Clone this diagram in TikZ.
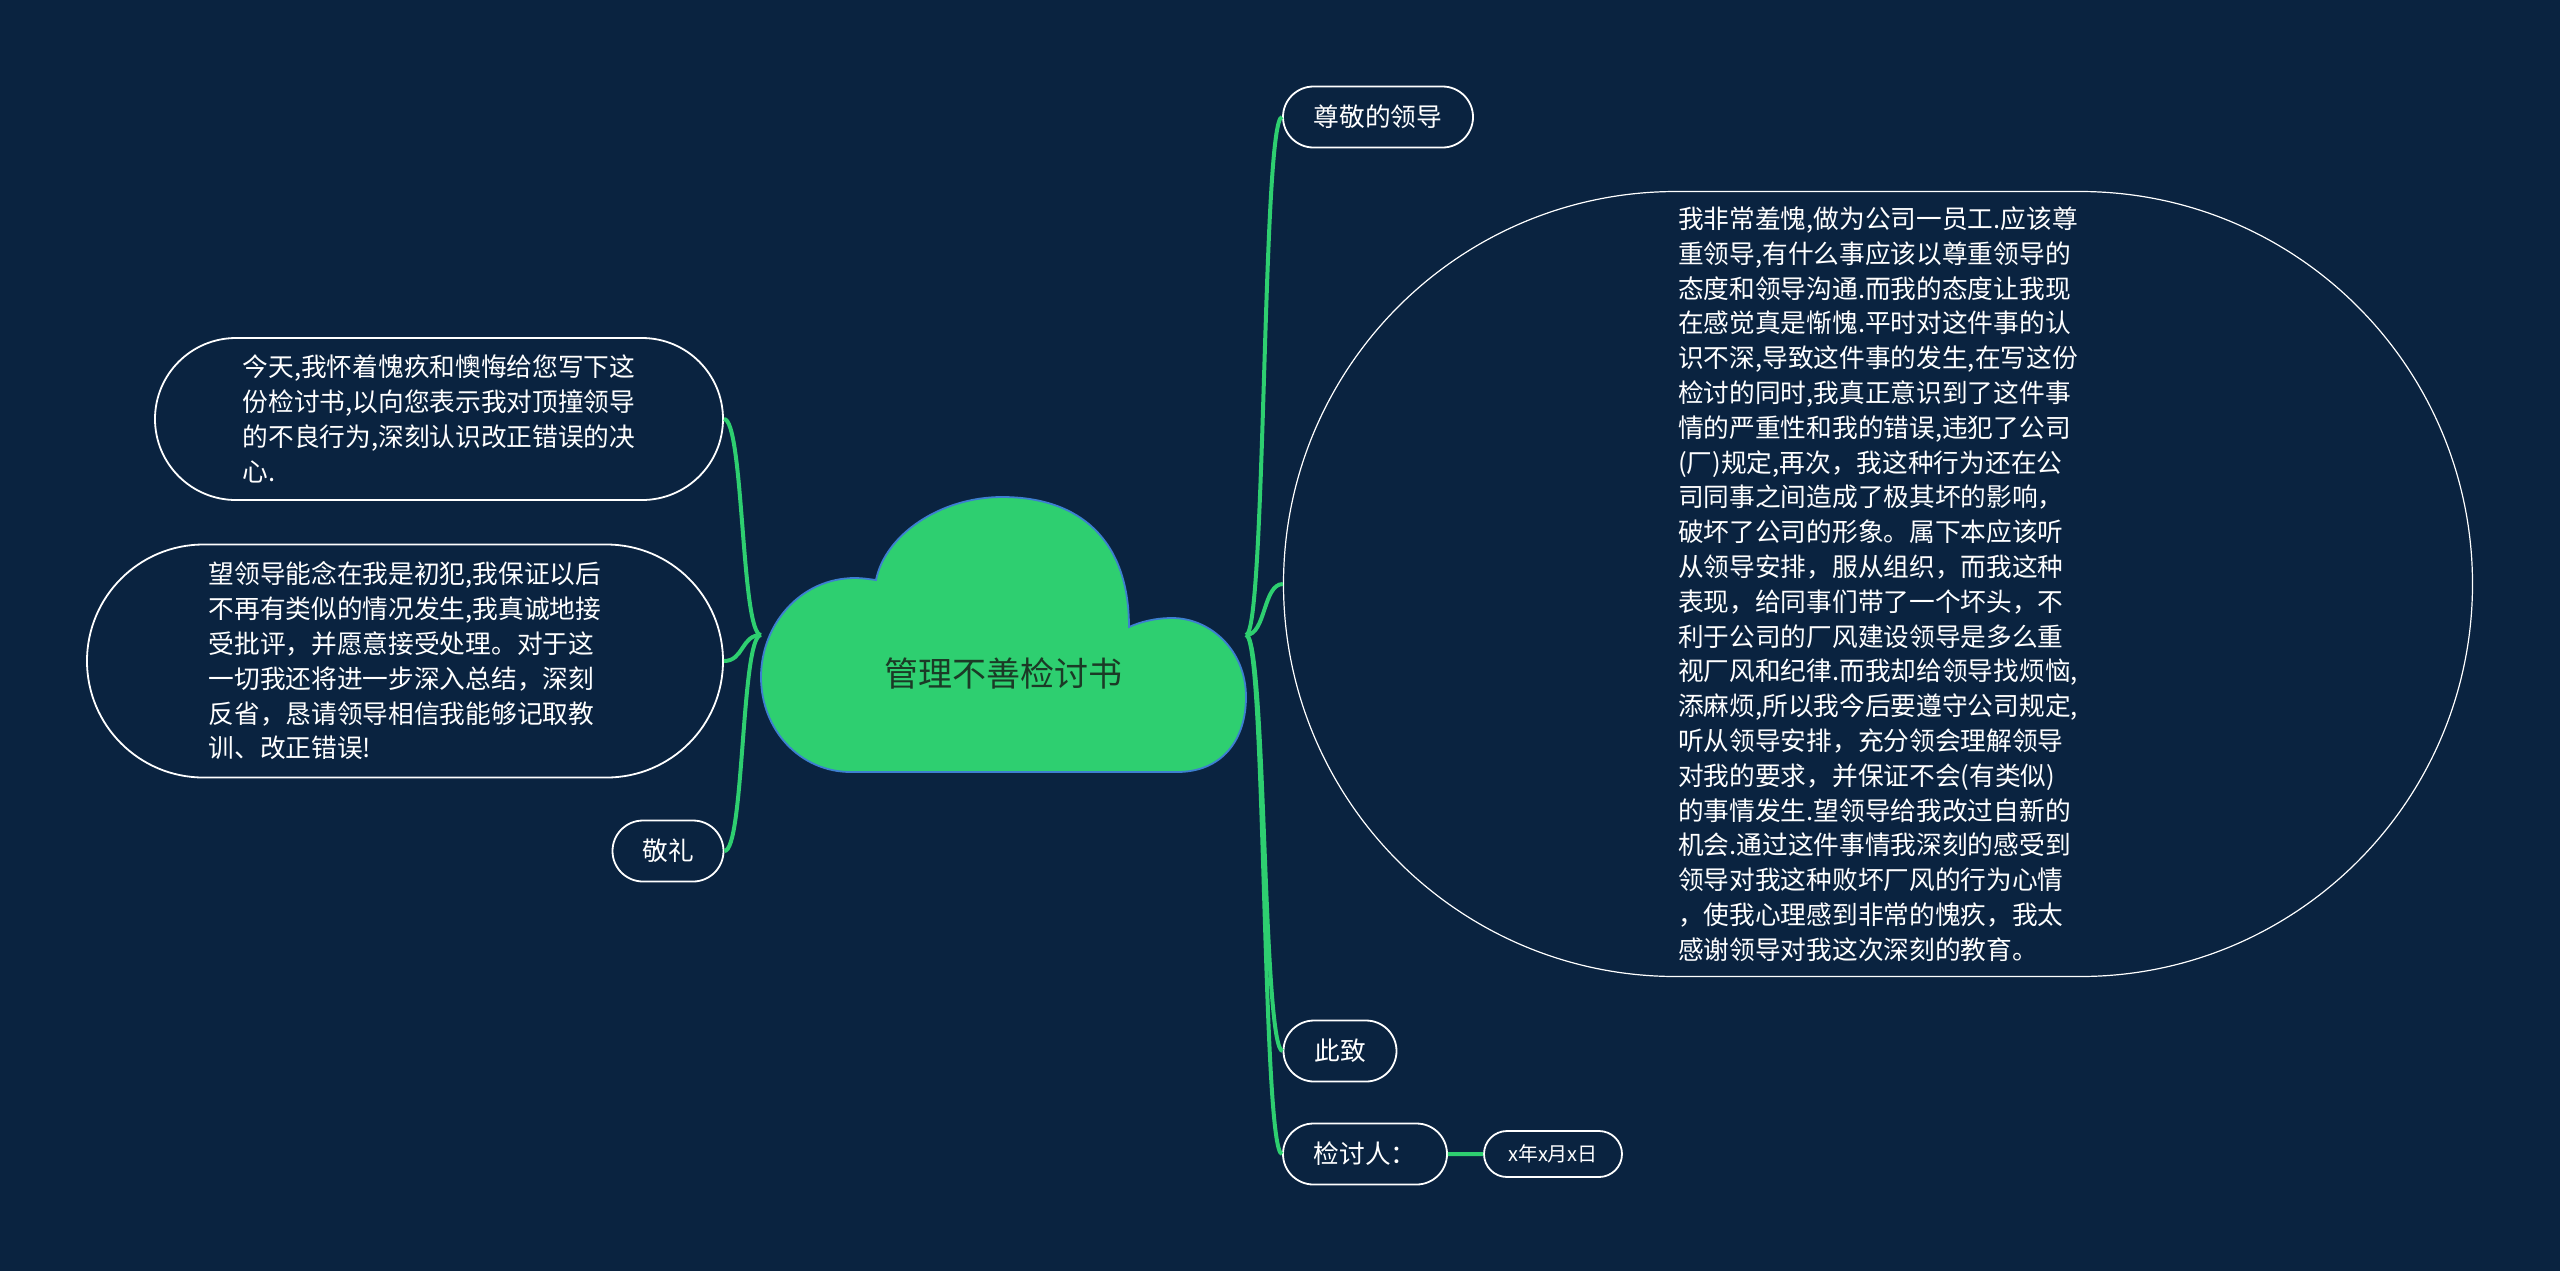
\documentclass[tikz,border=0pt]{standalone}
\usepackage{fontspec}
\setmainfont{Noto Sans CJK SC}
\usetikzlibrary{shapes.misc}
\definecolor{bgnavy}{HTML}{0A2340}
\definecolor{branch}{HTML}{2ECF70}
\definecolor{cloudline}{HTML}{3D7FD0}
\definecolor{titlegreen}{HTML}{1B3A26}

\begin{document}
\begin{tikzpicture}[
  x=0.5pt, y=-0.5pt,
  every node/.style={font=\fontsize{12.85}{17.4}\selectfont, text=white},
  topic/.style = {rounded rectangle, draw=white, line width=0.9pt, inner sep=0pt, align=left},
  small/.style = {topic, minimum height=30.5pt},
  link/.style  = {draw=branch, line width=2pt},
]
  \fill[bgnavy] (0,0) rectangle (2560,1271);
  \useasboundingbox (0,0) rectangle (2560,1271);

  \draw[cloudline, fill=branch, line width=0.9pt]
    (851,772) -- (1177,772)
    .. controls (1222,772) and (1246,740) .. (1246,697)
    .. controls (1246,650) and (1210,618) .. (1172,618)
    .. controls (1155,618) and (1140,622) .. (1129,627)
    .. controls (1129,540) and (1080,497) .. (1002,497)
    .. controls (940,497) and (885,535) .. (876,580)
    .. controls (868,579) and (862,578) .. (855,578)
    .. controls (800,578) and (761,625) .. (761,677)
    .. controls (761,730) and (800,772) .. (851,772) -- cycle;
  \node[font=\fontsize{17}{20}\selectfont, text=titlegreen] (title) at (1003,673) {管理不善检讨书};
  \coordinate (jl) at (761,635);
  \coordinate (jr) at (1246,635);

  \node[small, minimum width=95pt] (lead) at (1378,117) {尊敬的领导};
  \node[topic, line width=0.6pt, minimum width=594.5pt, minimum height=392.5pt] (body) at (1878,584) {%
    我非常羞愧,做为公司一员工.应该尊\\
    重领导,有什么事应该以尊重领导的\\
    态度和领导沟通.而我的态度让我现\\
    在感觉真是惭愧.平时对这件事的认\\
    识不深,导致这件事的发生,在写这份\\
    检讨的同时,我真正意识到了这件事\\
    情的严重性和我的错误,违犯了公司\\
    (厂)规定,再次，我这种行为还在公\\
    司同事之间造成了极其坏的影响，\\
    破坏了公司的形象。属下本应该听\\
    从领导安排，服从组织，而我这种\\
    表现，给同事们带了一个坏头，不\\
    利于公司的厂风建设领导是多么重\\
    视厂风和纪律.而我却给领导找烦恼,\\
    添麻烦,所以我今后要遵守公司规定,\\
    听从领导安排，充分领会理解领导\\
    对我的要求，并保证不会(有类似)\\
    的事情发生.望领导给我改过自新的\\
    机会.通过这件事情我深刻的感受到\\
    领导对我这种败坏厂风的行为心情\\
    ，使我心理感到非常的愧疚，我太\\
    感谢领导对我这次深刻的教育。};
  \node[small, minimum width=56.5pt] (salute) at (1340,1051) {此致};
  \node[small, minimum width=82pt] (sign) at (1365,1154) {检讨人：};
  \node[topic, font=\fontsize{10}{12}\selectfont, minimum width=69pt, minimum height=23pt] (date) at (1553,1154) {x年x月x日};

  \node[topic, minimum width=284pt, minimum height=81pt] (today) at (439,419) {%
    今天,我怀着愧疚和懊悔给您写下这\\
    份检讨书,以向您表示我对顶撞领导\\
    的不良行为,深刻认识改正错误的决\\
    心.};
  \node[topic, minimum width=318pt, minimum height=116.5pt] (hope) at (405,661) {%
    望领导能念在我是初犯,我保证以后\\
    不再有类似的情况发生,我真诚地接\\
    受批评，并愿意接受处理。对于这\\
    一切我还将进一步深入总结，深刻\\
    反省，恳请领导相信我能够记取教\\
    训、改正错误!};
  \node[small, minimum width=55.5pt] (regards) at (668,851) {敬礼};

  \foreach \n in {today, hope, regards}
    \draw[link] (jl) .. controls +(-20,0) and +(20,0) .. (\n.east);
  \foreach \n in {lead, body, salute, sign}
    \draw[link] (jr) .. controls +(20,0) and +(-20,0) .. (\n.west);
  \draw[link] (sign) -- (date);
\end{tikzpicture}
\end{document}
